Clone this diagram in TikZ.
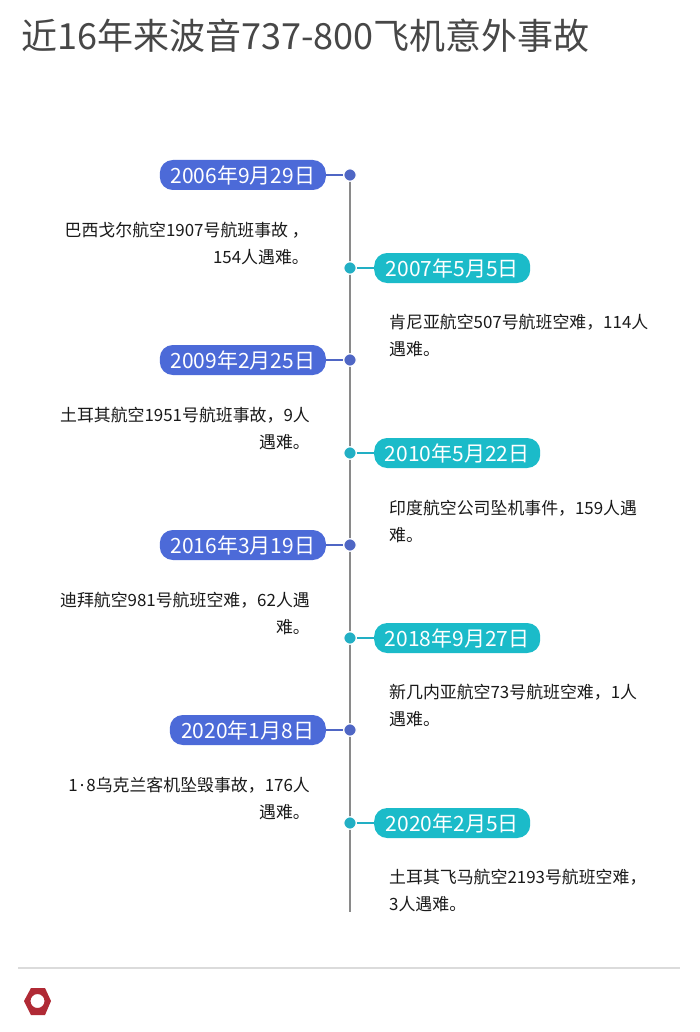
\documentclass[tikz,border=0pt]{standalone}
\usepackage{fontspec}
\setmainfont{Noto Sans CJK SC}
\newfontfamily\latinf{Noto Sans}
\definecolor{blu}{HTML}{4C6AD8}
\definecolor{tea}{HTML}{1BBBC9}
\definecolor{dotb}{HTML}{4F66C4}
\definecolor{dott}{HTML}{22AFC4}
\definecolor{axis}{HTML}{8A8A8A}
\definecolor{ink}{HTML}{1A1A1A}
\definecolor{logo}{HTML}{B02A35}
\tikzset{x=1pt,y=-1pt,
 pill/.style={rounded corners=13pt,minimum height=30pt,inner sep=0pt,text=white,font=\fontsize{21}{21}\selectfont},
 bluepill/.style={pill,fill=blu},
 teapill/.style={pill,fill=tea},
 dotnode/.style={circle,inner sep=0pt,minimum size=12.5pt,draw=white,line width=1.2pt},
 body/.style={font=\fontsize{16.9}{27}\selectfont,text=ink,inner sep=0pt},
 link/.style={line width=1.5pt}
}
\newcommand{\evL}[4]{%
 \node[dotnode,fill=dotb] (d#1) at (350,#2) {};
 \node[bluepill,anchor=east,minimum width=#3pt] (p#1) at (326,#2) {#4};
 \draw[link,draw=dotb] (p#1) -- (d#1);
}
\newcommand{\evR}[4]{%
 \node[dotnode,fill=dott] (d#1) at (350,#2) {};
 \node[teapill,anchor=west,minimum width=#3pt] (p#1) at (374,#2) {#4};
 \draw[link,draw=dott] (p#1) -- (d#1);
}
\begin{document}
\begin{tikzpicture}
\useasboundingbox (0,0) rectangle (700,1032);
\fill[white] (0,0) rectangle (700,1032);
\node[anchor=west,inner sep=0pt,text=black!72,font=\fontsize{36}{36}\selectfont] (title) at (21,36) {近16年来波音737-800飞机意外事故};
\coordinate (top) at (350,175);
\coordinate (bot) at (350,912);
\draw[axis,line width=2pt] (top) -- (bot);
\evL{a}{175}{166}{2006年9月29日}
\evR{b}{268}{156}{2007年5月5日}
\evL{c}{360}{166}{2009年2月25日}
\evR{d}{453}{166}{2010年5月22日}
\evL{e}{545}{166}{2016年3月19日}
\evR{f}{638}{166}{2018年9月27日}
\evL{g}{730}{156}{2020年1月8日}
\evR{h}{823}{156}{2020年2月5日}
\node[body,anchor=north east,align=right] (ta) at (309,222) {巴西戈尔航空1907号航班事故 ，\\154人遇难。};
\node[body,anchor=north west,align=left] (tb) at (389,314) {肯尼亚航空507号航班空难，114人\\遇难。};
\node[body,anchor=north east,align=right] (tc) at (310,407) {土耳其航空1951号航班事故，9人\\遇难。};
\node[body,anchor=north west,align=left] (td) at (389,499.5) {印度航空公司坠机事件，159人遇\\难。};
\node[body,anchor=north east,align=right] (te) at (310,592) {迪拜航空981号航班空难，62人遇\\难。};
\node[body,anchor=north west,align=left] (tf) at (389,684) {新几内亚航空73号航班空难，1人\\遇难。};
\node[body,anchor=north east,align=right] (tg) at (310,777) {1\hspace{2pt}{\latinf ·}\hspace{2pt}8乌克兰客机坠毁事故，176人\\遇难。};
\node[body,anchor=north west,align=left] (th) at (389,869) {土耳其飞马航空2193号航班空难，\\3人遇难。};
\draw[black!14,line width=1.2pt] (18,968) -- (680,968);
\fill[logo,even odd rule] (24,1001) -- (31,988) -- (45,988) -- (51,1001) -- (45,1015) -- (31,1015) -- cycle
 (37.5,1001) circle[radius=7];
\end{tikzpicture}
\end{document}
